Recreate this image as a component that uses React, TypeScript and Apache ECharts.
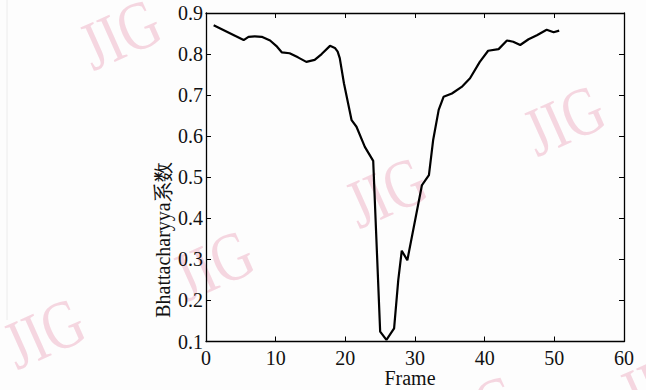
import React, { useEffect, useRef } from "react";
import * as echarts from "echarts";

const frames = [1.1, 5.4, 6.1, 7.0, 8.0, 9.2, 10.2, 10.9, 12.0, 13.2, 14.4, 15.6, 16.6, 17.8, 18.5, 18.9, 19.2, 19.8, 20.9, 21.6, 22.8, 24.0, 25.0, 25.9, 27.0, 27.6, 28.1, 28.9, 31.0, 32.0, 32.6, 33.4, 34.1, 35.3, 36.7, 37.9, 39.3, 40.5, 42.0, 43.2, 44.1, 45.1, 46.3, 47.5, 48.9, 49.9, 50.7];
const values = [0.870, 0.834, 0.842, 0.843, 0.842, 0.833, 0.818, 0.804, 0.802, 0.792, 0.781, 0.786, 0.800, 0.820, 0.815, 0.806, 0.790, 0.729, 0.639, 0.623, 0.574, 0.540, 0.124, 0.104, 0.132, 0.250, 0.321, 0.298, 0.481, 0.505, 0.590, 0.664, 0.696, 0.704, 0.720, 0.741, 0.781, 0.808, 0.812, 0.833, 0.830, 0.822, 0.836, 0.846, 0.859, 0.853, 0.857];
const xTicks = [0, 10, 20, 30, 40, 50, 60];
const yTicks = [0.1, 0.2, 0.3, 0.4, 0.5, 0.6, 0.7, 0.8, 0.9];
const xTitle = "Frame";
const yTitle = "Bhattacharyya系数";
const watermark = "JIG";

const SERIF = '"Liberation Serif", "Times New Roman", serif';

export default function App() {
  const ref = useRef<HTMLDivElement>(null);
  useEffect(() => {
    const chart = echarts.init(ref.current!, null, { renderer: "svg" });
    const wmPos = [
      [120, 34], [386, 192], [564, 120], [213, 265], [44, 333], [478, 410], [660, 382],
    ];
    const axisBase = {
      type: "value" as const,
      axisLine: { show: true, onZero: false, lineStyle: { color: "#000", width: 1.3 } },
      axisTick: { show: true, inside: true, length: 5, lineStyle: { color: "#000", width: 1 } },
      splitLine: { show: false },
    };
    chart.setOption({
      animation: false,
      backgroundColor: "#fdfdfd",
      graphic: [
        ...wmPos.map(([x, y]) => ({
          type: "text",
          x,
          y,
          rotation: 0.42,
          scaleX: 0.92,
          scaleY: 1.15,
          z: -10,
          silent: true,
          style: {
            text: watermark,
            fill: "#f5d6e0",
            font: `60px ${SERIF}`,
            textAlign: "center",
            textVerticalAlign: "middle",
          },
        })),
        {
          type: "line",
          shape: { x1: 7, y1: 0, x2: 7, y2: 320 },
          style: { stroke: "#ececec", lineWidth: 1 },
          z: -5,
        },
        {
          type: "text",
          x: 410,
          y: 378,
          style: {
            text: xTitle,
            fill: "#111",
            font: `20px ${SERIF}`,
            textAlign: "center",
            textVerticalAlign: "middle",
          },
        },
        {
          type: "text",
          x: 163,
          y: 240,
          rotation: Math.PI / 2,
          style: {
            text: yTitle,
            fill: "#111",
            font: `20px ${SERIF}`,
            textAlign: "center",
            textVerticalAlign: "middle",
          },
        },
      ],
      grid: { left: 206, top: 13, right: 22, bottom: 48.5, containLabel: false },
      xAxis: [
        {
          ...axisBase,
          position: "bottom",
          min: xTicks[0],
          max: xTicks[xTicks.length - 1],
          interval: 10,
          axisLabel: {
            show: true,
            margin: 6,
            color: "#111",
            fontFamily: SERIF,
            fontSize: 20,
          },
        },
        {
          ...axisBase,
          position: "top",
          min: xTicks[0],
          max: xTicks[xTicks.length - 1],
          interval: 10,
          axisLabel: { show: false },
        },
      ],
      yAxis: [
        {
          ...axisBase,
          position: "left",
          min: yTicks[0],
          max: yTicks[yTicks.length - 1],
          interval: 0.1,
          axisLabel: {
            show: true,
            margin: 3,
            color: "#111",
            fontFamily: SERIF,
            fontSize: 20,
            formatter: (v: number) => v.toFixed(1),
          },
        },
        {
          ...axisBase,
          position: "right",
          min: yTicks[0],
          max: yTicks[yTicks.length - 1],
          interval: 0.1,
          axisLabel: { show: false },
        },
      ],
      series: [
        {
          type: "line",
          xAxisIndex: 0,
          yAxisIndex: 0,
          data: frames.map((f, i) => [f, values[i]]),
          showSymbol: false,
          smooth: false,
          lineStyle: { color: "#000", width: 2.2 },
          z: 5,
        },
      ],
    });
    return () => chart.dispose();
  }, []);
  return (
    <div
      ref={ref}
      style={{ position: "fixed", left: 0, top: 0, width: 646, height: 390 }}
    />
  );
}
